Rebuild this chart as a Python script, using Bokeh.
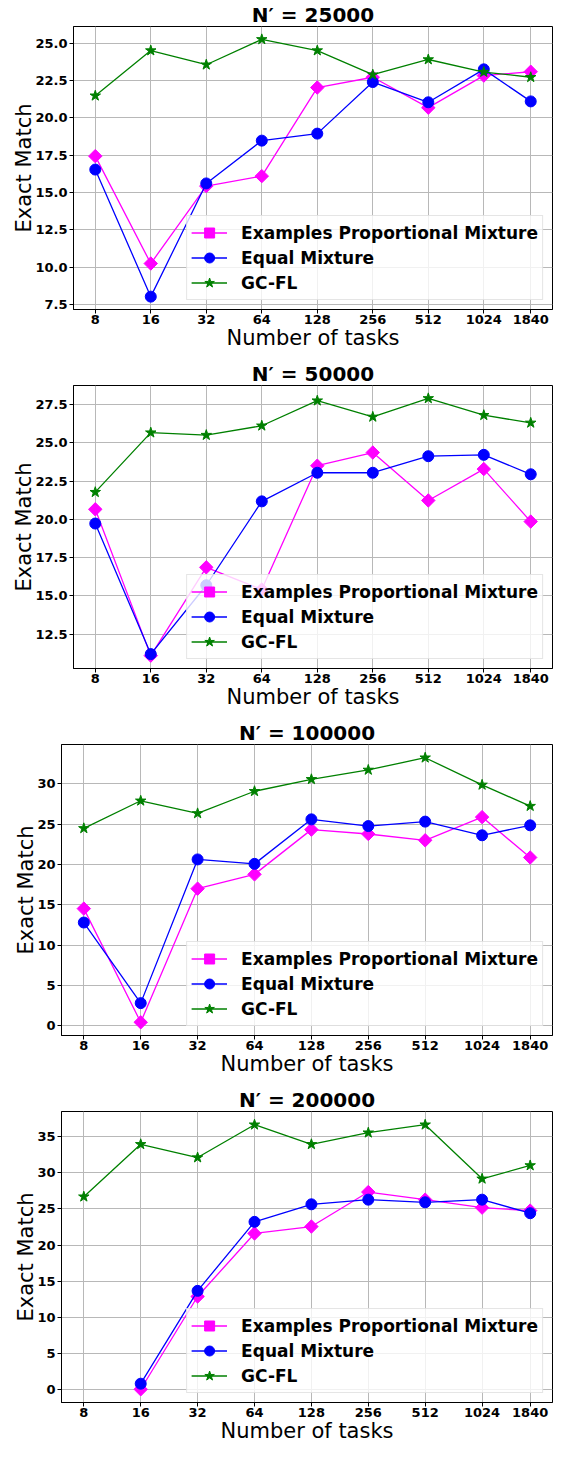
import math
from bokeh.plotting import figure
from bokeh.models import Range1d, FixedTicker, SingleIntervalTicker, NumeralTickFormatter
from bokeh.embed import file_html
from bokeh.resources import INLINE

tasks = [8, 16, 32, 64, 128, 256, 512, 1024, 1840]
titles = ["N′ = 25000", "N′ = 50000", "N′ = 100000", "N′ = 200000"]
nan = float("nan")

prop_25k = [17.44, 10.24, 15.43, 16.1, 22.04, 22.73, 20.69, 22.84, 23.1]
equal_25k = [16.54, 8.02, 15.61, 18.48, 18.95, 22.41, 21.05, 23.26, 21.11]
gcfl_25k = [21.49, 24.52, 23.57, 25.27, 24.52, 22.9, 23.92, 23.08, 22.73]

prop_50k = [20.66, 11.1, 16.87, 15.42, 23.51, 24.37, 21.24, 23.29, 19.86]
equal_50k = [19.73, 11.2, 15.7, 21.18, 23.05, 23.05, 24.13, 24.22, 22.95]
gcfl_50k = [21.78, 25.67, 25.51, 26.12, 27.76, 26.7, 27.91, 26.81, 26.31]

prop_100k = [14.53, 0.46, 17.0, 18.77, 24.31, 23.77, 22.99, 25.86, 20.86]
equal_100k = [12.81, 2.83, 20.62, 20.07, 25.58, 24.75, 25.3, 23.61, 24.84]
gcfl_100k = [24.47, 27.88, 26.32, 29.06, 30.54, 31.7, 33.21, 29.85, 27.22]

prop_200k = [nan, 0.1, 12.9, 21.6, 22.55, 27.31, 26.26, 25.16, 24.75]
equal_200k = [nan, 0.87, 13.68, 23.2, 25.62, 26.26, 25.9, 26.26, 24.39]
gcfl_200k = [26.67, 33.9, 32.07, 36.6, 33.9, 35.5, 36.6, 29.14, 30.98]

panels = [
    (prop_25k, equal_25k, gcfl_25k),
    (prop_50k, equal_50k, gcfl_50k),
    (prop_100k, equal_100k, gcfl_100k),
    (prop_200k, equal_200k, gcfl_200k),
]
y_intervals = [2.5, 2.5, 5, 5]
y_formats = ["0.0", "0.0", "0", "0"]
left_borders = [73, 73, 61, 61]
frame_widths = [479, 479, 491, 491]
frame_heights = [283, 283, 291, 291]
top_borders = [20, 28, 28, 28]

FONT = "DejaVu Sans"
series_names = ["Examples Proportional Mixture", "Equal Mixture", "GC-FL"]
series_colors = ["#ff00ff", "#0000ff", "#008000"]
series_markers = ["square", "circle", "star"]
series_angles = [math.pi / 4, 0, 0]
series_sizes = [9.5, 11, 11]

lx0, lx1 = math.log2(tasks[0]), math.log2(tasks[-1])
lm = 0.05 * (lx1 - lx0)
x_lo, x_hi = 2 ** (lx0 - lm), 2 ** (lx1 + lm)

figs = []
for i, (series, title) in enumerate(zip(panels, titles)):
    vals = [v for s in series for v in s if not math.isnan(v)]
    ymin, ymax = min(vals), max(vals)
    ym = 0.05 * (ymax - ymin)
    p = figure(
        frame_width=frame_widths[i], frame_height=frame_heights[i],
        x_axis_type="log",
        x_range=Range1d(x_lo, x_hi), y_range=Range1d(ymin - ym, ymax + ym),
        output_backend="svg", toolbar_location=None,
        min_border_left=left_borders[i], min_border_right=1,
        min_border_top=top_borders[i], min_border_bottom=48,
        background_fill_color="white", border_fill_color="white",
    )
    p.title.text = title
    p.title.align = "center"
    p.title.text_font = FONT
    p.title.text_font_size = "20px"
    p.title.text_font_style = "bold"
    p.title.text_color = "black"
    p.title.standoff = 0

    p.xaxis.ticker = FixedTicker(ticks=tasks)
    p.xaxis.formatter = NumeralTickFormatter(format="0")
    p.yaxis.ticker = SingleIntervalTicker(interval=y_intervals[i], num_minor_ticks=0)
    p.yaxis.formatter = NumeralTickFormatter(format=y_formats[i])
    p.xaxis.axis_label = "Number of tasks"
    p.yaxis.axis_label = "Exact Match"
    for ax in (p.xaxis, p.yaxis):
        ax.axis_label_text_font = FONT
        ax.axis_label_text_font_size = "21px"
        ax.axis_label_text_font_style = "normal"
        ax.axis_label_text_color = "black"
        ax.major_label_text_font = FONT
        ax.major_label_text_font_size = "13px"
        ax.major_label_text_font_style = "bold"
        ax.major_label_text_color = "black"
        ax.major_label_standoff = 2
        ax.major_tick_out = 4
        ax.major_tick_in = 0
        ax.minor_tick_out = 0
        ax.minor_tick_in = 0
        ax.axis_line_color = "black"
        ax.major_tick_line_color = "black"
    p.xaxis.major_label_standoff = 1
    p.xaxis.axis_label_standoff = -1
    p.yaxis.axis_label_standoff = -4
    p.outline_line_color = "black"
    p.outline_line_width = 1
    p.grid.grid_line_color = "#b8b8b8"
    p.grid.grid_line_width = 1

    for s, name, col, mk, ang, sz in zip(series, series_names, series_colors,
                                         series_markers, series_angles, series_sizes):
        p.line(tasks, s, line_color=col, line_width=1.3, legend_label=name)
        p.scatter(tasks, s, marker=mk, angle=ang, size=sz, fill_color=col,
                  line_color=col, legend_label=name)

    lg = p.legend[0]
    lg.location = "bottom_right"
    lg.margin = 9
    lg.padding = 4
    lg.spacing = 0
    lg.glyph_width = 36
    lg.glyph_height = 25
    lg.label_height = 25
    lg.label_standoff = 14
    lg.label_text_font = FONT
    lg.label_text_font_size = "17px"
    lg.label_text_font_style = "bold"
    lg.label_text_color = "black"
    lg.border_line_color = "#cccccc"
    lg.background_fill_alpha = 0.8
    figs.append(p)

open("out.html", "w").write(file_html(figs, INLINE))
